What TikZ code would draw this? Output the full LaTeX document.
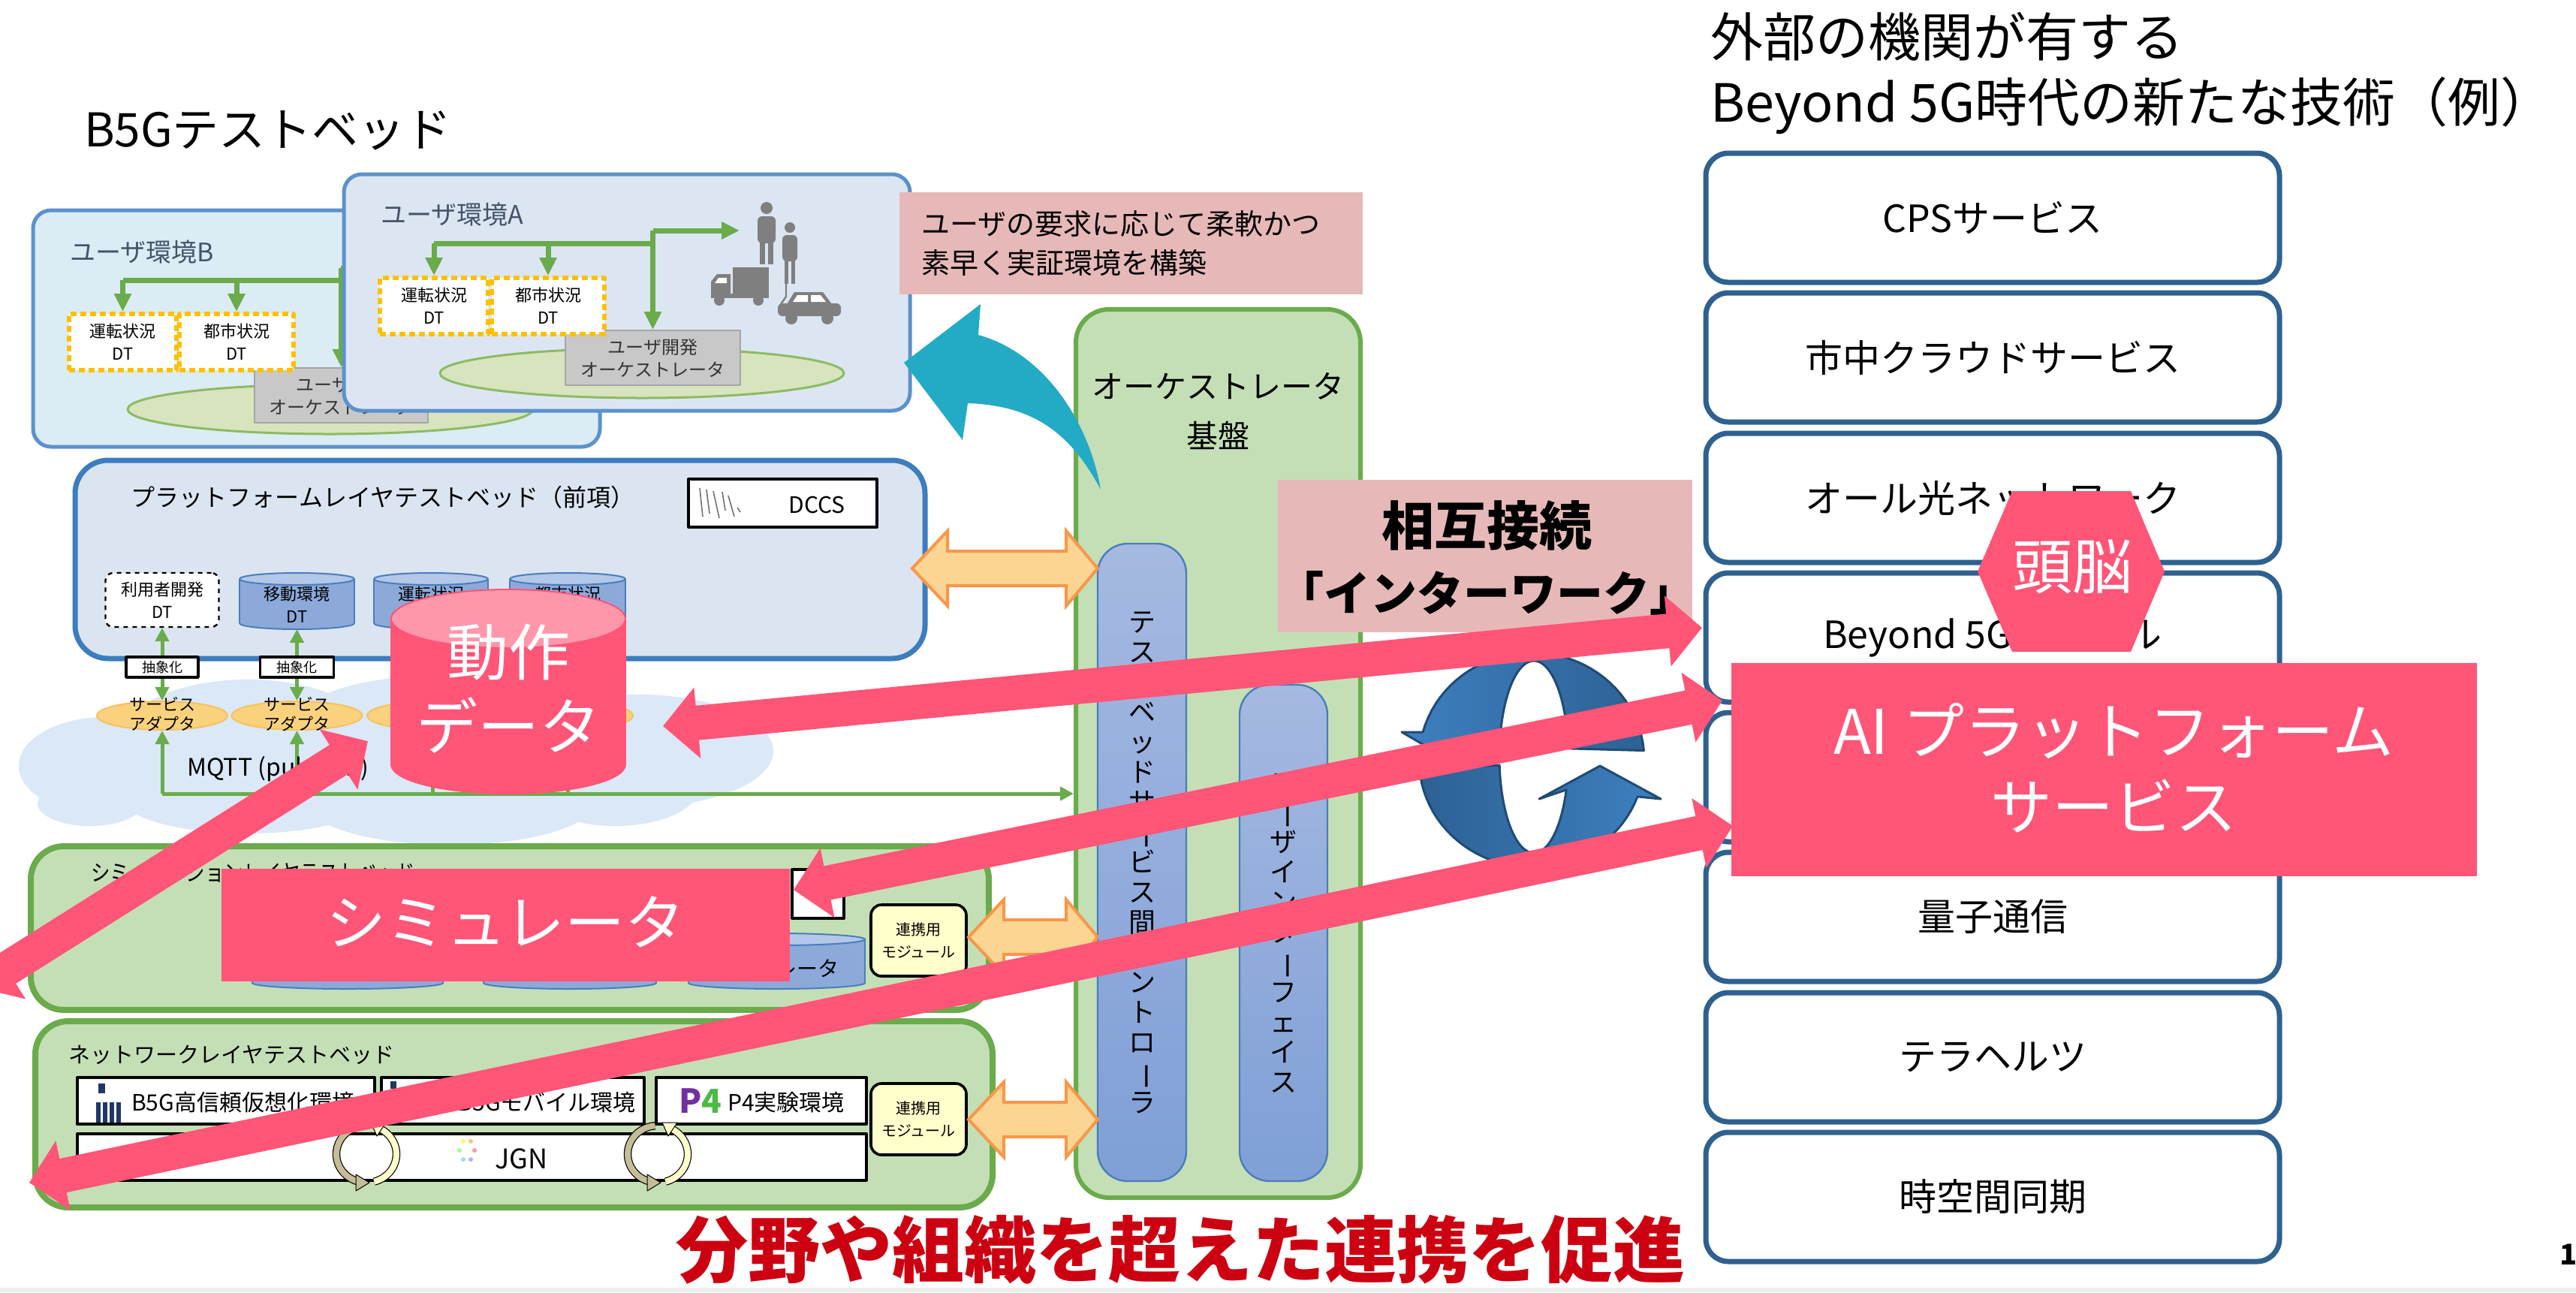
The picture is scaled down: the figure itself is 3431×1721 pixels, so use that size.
\documentclass[tikz,border=0pt]{standalone}
\usepackage{fontspec}
\usepackage{graphicx}
\setmainfont{Noto Sans CJK JP}
\usetikzlibrary{arrows.meta,shapes.geometric,calc}

\definecolor{grnline}{HTML}{6AAB4B}
\definecolor{grnfill}{HTML}{C4DFB5}
\definecolor{envBfill}{HTML}{DBECF5}
\definecolor{envAfill}{HTML}{DCE6F2}
\definecolor{envline}{HTML}{5B92CC}
\definecolor{platfill}{HTML}{DBE5F1}
\definecolor{platline}{HTML}{3D7DBE}
\definecolor{labc}{HTML}{44546A}
\definecolor{salmon}{HTML}{E6B9B8}
\definecolor{hot}{HTML}{FF5577}
\definecolor{hotlight}{HTML}{FF97AB}
\definecolor{tealarrow}{HTML}{23AAC4}
\definecolor{orfill}{HTML}{FDD593}
\definecolor{orline}{HTML}{F8974A}
\definecolor{adfill}{HTML}{FAD27E}
\definecolor{adline}{HTML}{F6C15E}
\definecolor{cloudc}{HTML}{DAE8F7}
\definecolor{cyltop}{HTML}{B3C7E8}
\definecolor{cylbody}{HTML}{8CA9DA}
\definecolor{cylline}{HTML}{4A7EBB}
\definecolor{modfill}{HTML}{FFFFCC}
\definecolor{rbox}{HTML}{2E6190}
\definecolor{dtline}{HTML}{FFC000}
\definecolor{greybox}{HTML}{C8C8C8}
\definecolor{greyline}{HTML}{A5A5A5}
\definecolor{iconc}{HTML}{7F7F7F}
\definecolor{ellfill}{HTML}{D8E4BE}
\definecolor{ellline}{HTML}{8CBB62}
\definecolor{ringL}{HTML}{3E80C0}
\definecolor{ringD}{HTML}{2D6194}
\definecolor{ringO}{HTML}{1F4B75}
\definecolor{redtxt}{HTML}{CC0011}
\definecolor{khaki}{HTML}{C4BD97}
\definecolor{ctlA}{HTML}{A5B9E1}
\definecolor{ctlB}{HTML}{7F9FD6}
\definecolor{navy}{HTML}{1F3864}
\definecolor{ppurple}{HTML}{7030A0}
\definecolor{pgreen}{HTML}{4EB848}

\newcommand\fs[2]{\fontsize{#1}{#2}\selectfont}
\newcommand\vbar{\rotatebox[origin=c]{-90}{ー}}

% cylinder: left x, right x, top cap y, bottom cap y, cap radius, body, cap, outline
\newcommand\cylinderat[8]{%
  \filldraw[fill=#6,draw=#8,line width=1pt] ({(#1+#2)/2},#4) ellipse [x radius={(#2-#1)/2}, y radius=#5];
  \fill[#6] (#1,#3) rectangle (#2,#4);
  \draw[#8,line width=1pt] (#1,#3) -- (#1,#4) (#2,#3) -- (#2,#4);
  \filldraw[fill=#7,draw=#8,line width=1pt] ({(#1+#2)/2},#3) ellipse [x radius={(#2-#1)/2}, y radius=#5];
}
% orange two-way block arrow: left tip x, right tip x, centre y
\newcommand\dblarrow[3]{%
  \filldraw[fill=orfill,draw=orline,line width=2pt,line join=miter]
    (#1,#3) -- (#1+47,#3-50) -- (#1+47,#3-23) -- (#2-42,#3-23) -- (#2-42,#3-50) -- (#2,#3)
    -- (#2-42,#3+50) -- (#2-42,#3+23) -- (#1+47,#3+23) -- (#1+47,#3+50) -- cycle;
}
% small cycle symbol between network boxes
\newcommand\cycleicon[2]{%
  \draw[black, line width=0.6pt, double=khaki, double distance=4pt]
    plot[domain=95:255,samples=24] ({#1+40*cos(\x)},{#2-38*sin(\x)});
  \draw[black, line width=0.6pt, double=modfill, double distance=4pt]
    plot[domain=-75:60,samples=24] ({#1+40*cos(\x)},{#2-38*sin(\x)});
  \filldraw[fill=khaki, draw=black, line width=0.5pt] (#1-14,#2+27) -- (#1+4,#2+38) -- (#1-14,#2+49) -- cycle;
  \filldraw[fill=modfill, draw=black, line width=0.5pt] (#1+26,#2-42) -- (#1+6,#2-42) -- (#1+14,#2-24) -- cycle;
}

\tikzset{
  envbox/.style={rounded corners=12pt, line width=2.5pt, draw=envline, inner sep=0pt},
  dtbox/.style={draw=dtline, fill=white, line width=3pt, dash pattern=on 4pt off 2.5pt,
                minimum height=37.5pt, inner sep=0pt, align=center, font=\fs{11}{15}},
  greyb/.style={fill=greybox, draw=greyline, line width=1pt, inner sep=0pt, align=center,
                font=\fs{12}{15}, text=black!80},
  gln/.style={draw=grnline, line width=3.5pt},
  garr/.style={gln, -{Triangle[length=12pt,width=11pt]}},
  pln/.style={draw=grnline, line width=2.5pt},
  parr/.style={pln, -{Triangle[length=9pt,width=9pt]}},
  pdarr/.style={pln, {Triangle[length=9pt,width=9pt]}-{Triangle[length=9pt,width=9pt]}},
  layer/.style={fill=grnfill, draw=grnline, line width=4pt, rounded corners=22pt, inner sep=0pt},
  ctl/.style={rounded corners=20pt, draw=cylline, line width=1.2pt, top color=ctlA, bottom color=ctlB,
              inner sep=0pt, align=center, font=\fs{18}{20}},
  absbox/.style={fill=white, draw=black, line width=1.8pt, minimum height=13.5pt, inner sep=0pt, font=\fs{9}{10}},
  adapter/.style={ellipse, fill=adfill, draw=adline, line width=1pt, minimum width=87pt,
                  minimum height=19pt, inner sep=0pt},
  module/.style={fill=modfill, draw=black, line width=1.8pt, rounded corners=7pt, inner sep=0pt,
                 align=center, font=\fs{10}{15}},
  rowbox/.style={fill=white, draw=black, line width=2pt, inner sep=0pt, minimum height=31pt},
  techbox/.style={fill=white, draw=rbox, line width=3.5pt, rounded corners=15pt, inner sep=0pt,
                  minimum width=382pt, minimum height=86pt, font=\fs{25}{30}},
  hotarrow/.style={draw=hot, line width=23pt,
                   {Triangle[length=23pt,width=46pt]}-{Triangle[length=23pt,width=46pt]}},
  hotlabel/.style={text=white, align=center}
}

\begin{document}
\begin{tikzpicture}[x=0.5pt,y=-0.5pt,line join=round]
\useasboundingbox (0,0) rectangle (3431,1721);
\clip (0,0) rectangle (3431,1721);
\fill[white] (0,0) rectangle (3431,1721);
\fill[black!7] (0,1715) rectangle (3431,1721);

% ---------------- headings
\node[anchor=base west, font=\fs{31}{36}] (title) at (105,195) {B5Gテストベッド};
\node[anchor=base west, font=\fs{35}{40}] (hdr1) at (2271,75) {外部の機関が有する};
\node[anchor=base west, font=\fs{35}{40}] (hdr2) at (2271,162) {Beyond 5G時代の新たな技術（例）};

% ---------------- user environment B
\node[envbox, fill=envBfill, minimum width=377.5pt, minimum height=157.5pt] (envB) at (421.5,437.5) {};
\node[anchor=west, text=labc, font=\fs{17}{20}] (labB) at (86,336) {ユーザ環境B};
\filldraw[fill=ellfill, draw=ellline, line width=1.5pt] (440,545) ellipse [x radius=270, y radius=33];
\node[greyb, minimum width=115.5pt, minimum height=36.5pt] (orchB) at (454.5,526.5) {ユーザ開発\\オーケストレータ};
\node[dtbox, minimum width=71.5pt] (dtB1) at (163.5,455.5) {運転状況\\DT};
\node[dtbox, minimum width=76pt] (dtB2) at (315,455.5) {都市状況\\DT};
\coordinate (jB) at (454,373);
\draw[gln] (163.5,373) -- (jB);
\draw[gln] (454,357) -- (560,357);
\draw[garr] (163.5,373) -- (dtB1.north);
\draw[garr] (315,373) -- (dtB2.north);
\draw[garr] (454.5,357) -- (orchB.north);

% ---------------- user environment A
\node[envbox, fill=envAfill, minimum width=377pt, minimum height=157.5pt] (envA) at (835,389.5) {};
\node[anchor=west, text=labc, font=\fs{17}{20}] (labA) at (500,286) {ユーザ環境A};
\filldraw[fill=ellfill, draw=ellline, line width=1.5pt] (855,497) ellipse [x radius=269, y radius=33];
\node[greyb, minimum width=116.5pt, minimum height=36.5pt] (orchA) at (869.5,476.5) {ユーザ開発\\オーケストレータ};
\node[dtbox, minimum width=72pt] (dtA1) at (578,407.5) {運転状況\\DT};
\node[dtbox, minimum width=75pt] (dtA2) at (730,407.5) {都市状況\\DT};
\coordinate (users) at (985,307);
\draw[gln] (578,324) -- (869.5,324);
\draw[garr] (578,324) -- (dtA1.north);
\draw[garr] (730,324) -- (dtA2.north);
\draw[garr] (869.5,307) -- (orchA.north);
\draw[garr] (869.5,307) -- (users);
% people and vehicles
\fill[iconc] (1021,277) circle [radius=8];
\fill[iconc, rounded corners=3pt] (1009,288) rectangle (1033,324);
\fill[iconc] (1012,320) rectangle (1019,352);
\fill[iconc] (1023,320) rectangle (1030,352);
\fill[iconc] (1052,303) circle [radius=7];
\fill[iconc, rounded corners=3pt] (1042,313) rectangle (1062,348);
\fill[iconc] (1045,344) rectangle (1050,378);
\fill[iconc] (1054,344) rectangle (1059,378);
\fill[iconc] (976,356) rectangle (1024,392);
\fill[iconc] (947,394) -- (947,375) -- (955,365) -- (973,365) -- (973,394) -- cycle;
\fill[white] (952,377) -- (957,370) -- (968,370) -- (968,377) -- cycle;
\fill[iconc] (947,391) rectangle (1024,397);
\fill[iconc] (958,400) circle [radius=7];
\fill[iconc] (1010,400) circle [radius=7];
\fill[iconc, rounded corners=3pt] (1036,421) rectangle (1120,404);
\fill[iconc] (1048,405) -- (1058,389) -- (1096,389) -- (1108,405) -- cycle;
\fill[white] (1056,402) -- (1062,393) -- (1076,393) -- (1076,402) -- cycle;
\fill[white] (1080,402) -- (1080,393) -- (1093,393) -- (1100,402) -- cycle;
\fill[iconc] (1054,424) circle [radius=8];
\fill[iconc] (1102,424) circle [radius=8];
\draw[iconc, line width=1.2pt] (1047,378) -- (1047,395) -- (1040,405);

% ---------------- request note
\node[fill=salmon, minimum width=308.5pt, minimum height=68pt, inner xsep=14.5pt, text width=279.5pt,
      align=left, font=\fs{19}{26}] (note) at (1506.5,324) {ユーザの要求に応じて柔軟かつ\\素早く実証環境を構築};

% ---------------- orchestrator base
\node[fill=grnfill, draw=grnline, line width=3pt, rounded corners=22pt, minimum width=189.5pt,
      minimum height=591.5pt, inner sep=0pt] (orch) at (1622.5,1003.5) {};
\node[font=\fs{21}{33}, align=center] (orchT) at (1622,548) {オーケストレータ\\基盤};
\node[ctl, minimum width=59pt, minimum height=424.5pt] (ctl) at (1521,1148.5)
  {テ\\ス\\ト\\ベ\\ッ\\ド\\サ\\\vbar\\ビ\\ス\\間\\コ\\ン\\ト\\ロ\\\vbar\\ラ};
\node[ctl, minimum width=58.5pt, minimum height=330.5pt] (ui) at (1709.5,1242.5)
  {ユ\\\vbar\\ザ\\イ\\ン\\タ\\\vbar\\フ\\ェ\\イ\\ス};

% ---------------- cloud behind the adapters
\fill[cloudc] (140,1020) ellipse [x radius=115, y radius=65];
\fill[cloudc] (330,985) ellipse [x radius=170, y radius=80];
\fill[cloudc] (580,975) ellipse [x radius=200, y radius=75];
\fill[cloudc] (850,1000) ellipse [x radius=180, y radius=75];
\fill[cloudc] (330,1060) ellipse [x radius=170, y radius=50];
\fill[cloudc] (600,1070) ellipse [x radius=190, y radius=55];
\fill[cloudc] (820,1050) ellipse [x radius=110, y radius=50];
\fill[cloudc] (120,1070) ellipse [x radius=70, y radius=30];

% ---------------- platform layer
\node[fill=platfill, draw=platline, line width=3.5pt, rounded corners=22pt, minimum width=566pt,
      minimum height=132pt, inner sep=0pt] (plat) at (666,745) {};
\node[font=\fs{16}{20}] (platT) at (510,662) {プラットフォームレイヤテストベッド（前項）};
\node[fill=white, draw=black, line width=2pt, minimum width=125.5pt, minimum height=32pt, inner sep=0pt] (dccs) at (1042.5,670) {};
\node[font=\fs{15}{18}] (dccsT) at (1088,672) {DCCS};
\draw[black!55, line width=0.8pt] (932,650) -- (936,688) (941,652) -- (945,684) (950,654) -- (958,690)
  (962,655) -- (966,680) (970,660) -- (978,688) (982,676) -- (986,682);
\node[fill=white, draw=black, line width=1.2pt, dashed, rounded corners=5pt, minimum width=75.5pt,
      minimum height=36pt, inner sep=0pt, align=center, font=\fs{11}{15}] (pdt1) at (216,799) {利用者開発\\DT};
\cylinderat{319}{472}{771}{830}{8}{cylbody}{cyltop}{cylline}
\cylinderat{498}{650}{771}{830}{8}{cylbody}{cyltop}{cylline}
\cylinderat{679}{833}{771}{830}{8}{cylbody}{cyltop}{cylline}
\node[align=center, font=\fs{11}{15}] (pdt2) at (395.5,805) {移動環境\\DT};
\node[align=center, font=\fs{11}{15}] (pdt3) at (574,805) {運転状況\\DT};
\node[align=center, font=\fs{11}{15}] (pdt4) at (756,805) {都市状況\\DT};
\coordinate (pdt2b) at (395.5,838);

\node[adapter] (ad1) at (216,953) {};
\node[adapter] (ad2) at (395.5,953) {};
\node[adapter] (ad3) at (576,953) {};
\node[adapter] (ad4) at (756,953) {};
\foreach \ax in {216,395.5}
  \node[align=center, font=\fs{11}{13}] at (\ax,951) {サービス\\アダプタ};

\draw[pdarr] (pdt1.south) -- (ad1.north);
\draw[pdarr] (pdt2b) -- (ad2.north);
\node[absbox, minimum width=48pt] (abs1) at (216,888.5) {抽象化};
\node[absbox, minimum width=49pt] (abs2) at (395.5,888.5) {抽象化};

\coordinate (mqL) at (216,1057);
\draw[parr] (mqL) -- (ad1.south);
\draw[parr] (395.5,1057) -- (ad2.south);
\draw[pln] (576,1057) -- (ad3.south);
\draw[pln] (756,1057) -- (ad4.south);
\draw[parr] (mqL) -- (mqL -| orch.west);
\node[anchor=west, font=\fs{16}{20}] (mqtt) at (242,1024) {MQTT (pub/sub)};

% ---------------- simulation layer
\node[layer, minimum width=638pt, minimum height=109pt] (sim) at (679,1236) {};
\node[anchor=west, font=\fs{15}{18}] (simT) at (114,1163) {\scalebox{0.85}[1]{シミュレーションレイヤテストベッド}};
\node[fill=white, draw=black, line width=2pt, minimum width=34.5pt, minimum height=32.5pt, inner sep=0pt] (simbox) at (1089.5,1190.5) {};
\cylinderat{336}{590}{1251}{1309}{8}{cylbody}{cyltop}{cylline}
\cylinderat{644}{874}{1251}{1309}{8}{cylbody}{cyltop}{cylline}
\cylinderat{917}{1152}{1251}{1309}{8}{cylbody}{cyltop}{cylline}
\node[font=\fs{14}{16}] (sc1) at (463,1290) {エミュレーション};
\node[font=\fs{14}{16}] (sc2) at (759,1290) {シミュレータ};
\node[font=\fs{14}{16}] (sc3) at (1034,1290) {エミュレータ};
\node[module, minimum width=63.5pt, minimum height=47.5pt] (simM) at (1223.5,1252.5) {連携用\\モジュール};

% ---------------- network layer
\node[layer, minimum width=637.5pt, minimum height=124pt] (net) at (684.5,1484) {};
\node[anchor=west, font=\fs{14.5}{18}] (netT) at (84,1405) {ネットワークレイヤテストベッド};
\node[rowbox, minimum width=198pt] (n1) at (301,1466) {};
\node[rowbox, minimum width=175pt] (n2) at (683,1466) {};
\node[rowbox, minimum width=140pt] (n3) at (1014,1466) {};
\node[rowbox, minimum width=525.5pt] (jgn) at (628.5,1541) {};
\fill[navy] (131,1443) rectangle (140,1456);
\foreach \bx in {128,137,146,155} \fill[navy] (\bx,1468) rectangle (\bx+6,1495);
\node[anchor=west, font=\fs{15}{18}] (n1T) at (168,1468) {B5G高信頼仮想化環境};
\fill[navy] (520,1440) rectangle (528,1450);
\node[anchor=east, font=\fs{15}{18}] (n2T) at (854,1468) {B5Gモバイル環境};
\node[font=\bfseries\fs{22}{24}] (p4logo) at (933,1466) {\textcolor{ppurple}{P}\textcolor{pgreen}{4}};
\node[anchor=west, font=\fs{15}{18}] (n3T) at (962,1468) {P4実験環境};
\foreach \ang/\cc in {0/red!40,60/orange!50,120/yellow!60,180/green!40,240/cyan!40,300/blue!30}
  \fill[\cc] ({622+10*cos(\ang)},{1532-14*sin(\ang)}) circle [radius=3];
\node[anchor=west, font=\fs{18}{20}] (jgnT) at (652,1543) {JGN};
\cycleicon{488}{1537}
\cycleicon{876}{1537}
\node[module, minimum width=63.5pt, minimum height=47.5pt] (netM) at (1223.5,1490.5) {連携用\\モジュール};

% ---------------- layer <-> controller arrows
\dblarrow{1215}{1462}{757}
\dblarrow{1290}{1462}{1248}
\dblarrow{1290}{1462}{1491}

% ---------------- interwork label and cycle
\node[fill=salmon, minimum width=276pt, minimum height=101.5pt, inner sep=0pt] (iw) at (1978,740.5) {};
\node[font=\bfseries\fs{35}{40}] (iw1) at (1980,700) {相互接続};
\node[font=\bfseries\fs{31}{36}] (iw2) at (1980,790) {「インターワーク」};

\filldraw[left color=ringD, right color=ringL, draw=ringO, line width=1.5pt]
  plot[domain=185:340,samples=40] ({2040+150*cos(\x)},{1012-143*sin(\x)})
  -- (2212,1064) -- (2131,1020) -- (2050,1064)
  -- plot[domain=340:185,samples=40] ({2043+46*cos(\x)},{1008-128*sin(\x)}) -- cycle;
\filldraw[left color=ringL, right color=ringD, draw=ringO, line width=1.5pt]
  plot[domain=5:165,samples=40] ({2040+150*cos(\x)},{1012-143*sin(\x)})
  -- (1867,975) -- (1948,1022) -- (2030,975)
  -- plot[domain=165:5,samples=40] ({2043+46*cos(\x)},{1008-128*sin(\x)}) -- cycle;

% ---------------- external technologies
\foreach \cy/\t [count=\i] in {290/CPSサービス, 476/市中クラウドサービス, 663/オール光ネットワーク,
    849/Beyond 5Gモバイル, 1035/{}, 1221/量子通信, 1408/テラヘルツ, 1594/時空間同期}
  \node[techbox] (tech\i) at (2654,\cy) {\t};

% ---------------- slogan and page number
\node[anchor=base, font=\bfseries\fs{48}{52}, text=redtxt] (slogan) at (1572,1700) {分野や組織を超えた連携を促進};
\node[anchor=base west, font=\bfseries\fs{19}{22}] (page) at (3402,1684) {1};

% ---------------- teal curved arrow towards user environments
\fill[tealarrow] (1204,483) -- (1306,405) -- (1303,446)
  .. controls (1390,470) and (1450,560) .. (1466,652)
  .. controls (1425,575) and (1375,540) .. (1289,537) -- (1282,586) -- cycle;

% ---------------- overlay: pink arrows
\coordinate (a1l) at (883,967);   \coordinate (a1r) at (2267,836);
\coordinate (a2l) at (1057,1185); \coordinate (a2r) at (2294,933);
\coordinate (a3l) at (39,1575);   \coordinate (a3r) at (2308,1100);
\coordinate (a4l) at (-30,1315);  \coordinate (a4r) at (490,987);
\draw[hotarrow] (a1l) -- (a1r);
\draw[hotarrow] (a2l) -- (a2r);
\draw[hotarrow] (a3l) -- (a3r);
\draw[hotarrow] (a4l) -- (a4r);

% ---------------- overlay: pink labels
\cylinderat{521}{833}{824}{1018}{39}{hot}{hotlight}{hot}
\node[hotlabel, font=\fs{41}{49.5}] (motion) at (677,917) {動作\\データ};
\node[fill=hot, minimum width=378.5pt, minimum height=75pt, inner sep=0pt] (simu) at (673.5,1232) {};
\node[hotlabel, font=\fs{40}{44}] (simuT) at (673.5,1228) {シミュレータ};
\node[fill=hot, minimum width=496.5pt, minimum height=142pt, inner sep=0pt] (ai) at (2802.5,1025) {};
\node[hotlabel, font=\fs{41}{50.5}] (aiT) at (2815,1023) {AI プラットフォーム\\サービス};
\fill[hot] (2634,761) -- (2680,654) -- (2838,654) -- (2883,761) -- (2838,868) -- (2680,868) -- cycle;
\node[hotlabel, font=\fs{40}{44}] (brain) at (2760,755) {頭脳};
\end{tikzpicture}
\end{document}
